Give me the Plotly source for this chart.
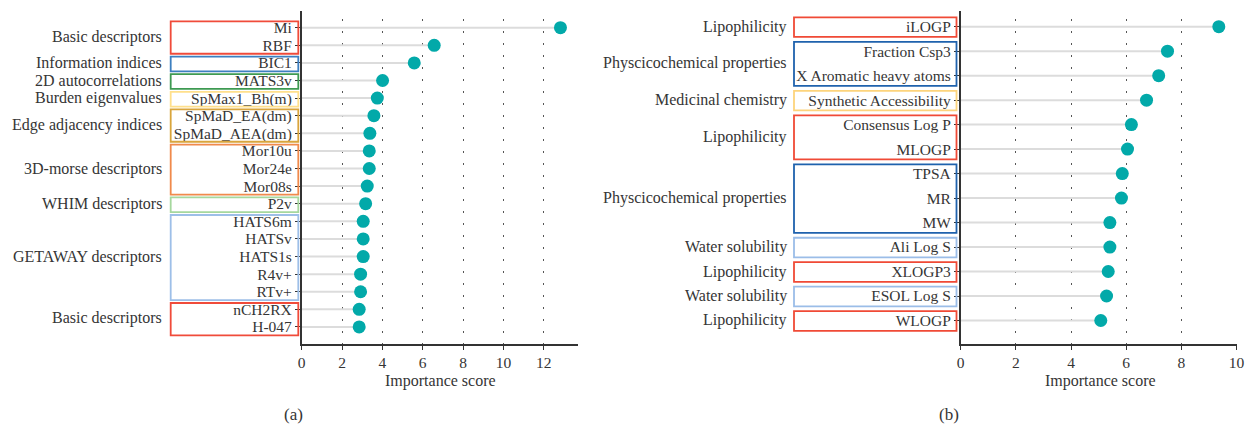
import plotly.graph_objects as go

# ---- Panel (a): molecular descriptors ----
feat_a = ["Mi", "RBF", "BIC1", "MATS3v", "SpMax1_Bh(m)", "SpMaD_EA(dm)",
          "SpMaD_AEA(dm)", "Mor10u", "Mor24e", "Mor08s", "P2v", "HATS6m",
          "HATSv", "HATS1s", "R4v+", "RTv+", "nCH2RX", "H-047"]
score_a = [12.83, 6.57, 5.58, 4.01, 3.75, 3.58, 3.38, 3.35, 3.35, 3.25,
           3.17, 3.05, 3.05, 3.05, 2.92, 2.92, 2.85, 2.85]
group_a = ["Basic descriptors", "Information indices", "2D autocorrelations",
           "Burden eigenvalues", "Edge adjacency indices", "3D-morse descriptors",
           "WHIM descriptors", "GETAWAY descriptors", "Basic descriptors"]
group_a_size = [2, 1, 1, 1, 2, 3, 1, 5, 2]
group_a_color = ["#f04b3a", "#3d7fc0", "#3e9a52", "#ffe08c", "#d9a53c",
                 "#f08a4c", "#a6d89e", "#9dbfe8", "#f04b3a"]
ticks_a = [0, 2, 4, 6, 8, 10, 12]

# ---- Panel (b): physicochemical properties ----
feat_b = ["iLOGP", "Fraction Csp3", "X Aromatic heavy atoms",
          "Synthetic Accessibility", "Consensus Log P", "MLOGP", "TPSA", "MR",
          "MW", "Ali Log S", "XLOGP3", "ESOL Log S", "WLOGP"]
score_b = [9.36, 7.50, 7.18, 6.74, 6.19, 6.05, 5.86, 5.83, 5.41, 5.41, 5.35,
           5.29, 5.08]
group_b = ["Lipophilicity", "Physcicochemical properties", "Medicinal chemistry",
           "Lipophilicity", "Physcicochemical properties", "Water solubility",
           "Lipophilicity", "Water solubility", "Lipophilicity"]
group_b_size = [1, 2, 1, 2, 3, 1, 1, 1, 1]
group_b_color = ["#f04a36", "#1f62ad", "#fdd47c", "#f04a36", "#1f62ad",
                 "#9bbde8", "#f04a36", "#9bbde8", "#f04a36"]
ticks_b = [0, 2, 4, 6, 8, 10]

W, H = 1246, 425
FONT = "Liberation Serif, Times New Roman, serif"
FS = 16          # group labels and axis titles
FS_TICK = 15.5   # tick labels
TXT = "#353535"
TEAL = "#02a9a9"
STEM = "#dcdcdc"


def px(x):
    return x / W


def py(y):
    return 1 - y / H


Y_DOM = [py(344), py(11)]

fig = go.Figure()


def add_panel(feats, scores, xa, ya):
    xs, ys = [], []
    for i, v in enumerate(scores):
        xs += [0, v, None]
        ys += [i, i, None]
    fig.add_trace(go.Scatter(x=xs, y=ys, mode="lines", xaxis=xa, yaxis=ya,
                             line=dict(color=STEM, width=2), hoverinfo="skip",
                             showlegend=False))
    fig.add_trace(go.Scatter(x=scores, y=list(range(len(feats))), mode="markers",
                             xaxis=xa, yaxis=ya, text=feats,
                             marker=dict(color=TEAL, size=13, line=dict(width=0)),
                             showlegend=False))


add_panel(feat_a, score_a, "x", "y")
add_panel(feat_b, score_b, "x2", "y2")

axis_common = dict(showline=True, linecolor="#333333", linewidth=1.6,
                   ticks="outside", tickcolor="#333333", tickwidth=1.2,
                   tickfont=dict(family=FONT, size=FS_TICK, color=TXT),
                   zeroline=False, mirror=False, automargin=False)

xgrid = dict(showgrid=True, gridcolor="#555555", gridwidth=1,
             griddash="0px,8px,2px,2px")

fig.update_layout(
    width=W, height=H, autosize=False, margin=dict(l=0, r=0, t=0, b=0, pad=0,
                                                   autoexpand=False),
    paper_bgcolor="white", plot_bgcolor="white",
    xaxis=dict(domain=[px(301.7), px(578)], range=[0, 13.7], anchor="y",
               tickvals=ticks_a, ticklen=4, **xgrid, **axis_common),
    yaxis=dict(domain=Y_DOM, range=[17.97, -0.95], anchor="x",
               tickvals=list(range(len(feat_a))), ticktext=feat_a,
               ticklen=5, showgrid=False, **axis_common),
    xaxis2=dict(domain=[px(960.7), px(1237)], range=[0, 10.02], anchor="y2",
                tickvals=ticks_b, ticklen=4, **xgrid, **axis_common),
    yaxis2=dict(domain=Y_DOM, range=[12.96, -0.64], anchor="x2",
                tickvals=list(range(len(feat_b))), ticktext=feat_b,
                ticklen=5, showgrid=False, **axis_common),
)


def add_groups(names, sizes, colors, yref, box_l, box_r, lab_x, top, bot):
    start = 0
    for name, n, col in zip(names, sizes, colors):
        end = start + n - 1
        fig.add_shape(type="rect", xref="paper", yref=yref,
                      x0=px(box_l), x1=px(box_r), y0=start - top, y1=end + bot,
                      line=dict(color=col, width=1.8), fillcolor="rgba(0,0,0,0)",
                      layer="above")
        fig.add_annotation(text=name, xref="paper", yref=yref, x=px(lab_x),
                           y=(start + end) / 2, xanchor="right", yanchor="middle",
                           showarrow=False,
                           font=dict(family=FONT, size=FS, color=TXT))
        start += n


add_groups(group_a, group_a_size, group_a_color, "y", 170.7, 298.3, 164, 0.36, 0.48)
add_groups(group_b, group_b_size, group_b_color, "y2", 794, 956.5, 788.5, 0.38, 0.42)

for cx, lab in [(441, "Importance score"), (1100, "Importance score")]:
    fig.add_annotation(text=lab, xref="paper", yref="paper", x=px(cx), y=py(381),
                       xanchor="center", yanchor="middle", showarrow=False,
                       font=dict(family=FONT, size=FS, color=TXT))

for cx, lab in [(293, "(a)"), (949, "(b)")]:
    fig.add_annotation(text=lab, xref="paper", yref="paper", x=px(cx), y=py(414),
                       xanchor="center", yanchor="middle", showarrow=False,
                       font=dict(family=FONT, size=17, color=TXT))

fig.write_html("out.html", config={"responsive": False, "displayModeBar": False})
